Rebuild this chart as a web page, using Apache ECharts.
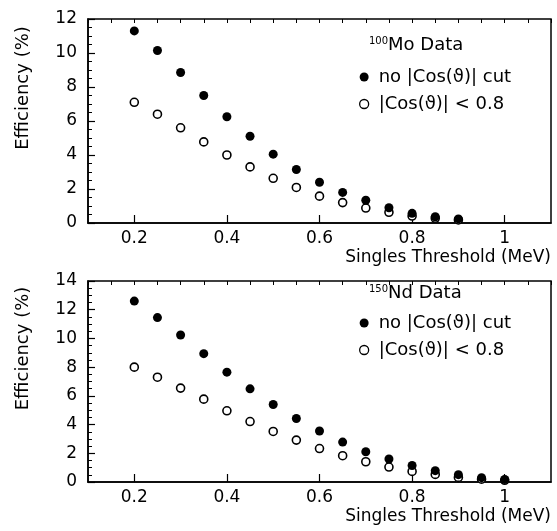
<!DOCTYPE html>
<html>
<head>
<meta charset="utf-8">
<script src="https://cdn.jsdelivr.net/npm/echarts@6/dist/echarts.min.js"></script>
<style>
  html, body { margin: 0; padding: 0; background: #fff; }
  #chart { width: 557px; height: 531px; }
</style>
</head>
<body>
<div id="chart"></div>
<script>
// Singles threshold (MeV) at which each efficiency was evaluated
const thresholds = [0.2, 0.25, 0.3, 0.35, 0.4, 0.45, 0.5, 0.55, 0.6, 0.65, 0.7, 0.75, 0.8, 0.85, 0.9, 0.95, 1.0];

// 100Mo efficiencies (%)
const moNoCut = [11.3, 10.15, 8.85, 7.5, 6.25, 5.1, 4.05, 3.15, 2.4, 1.8, 1.34, 0.9, 0.57, 0.37, 0.24];
const moCosCut = [7.1, 6.4, 5.6, 4.77, 4.0, 3.3, 2.63, 2.09, 1.58, 1.2, 0.88, 0.63, 0.41, 0.28, 0.18];

// 150Nd efficiencies (%)
const ndNoCut = [12.6, 11.45, 10.24, 8.94, 7.65, 6.49, 5.4, 4.42, 3.55, 2.78, 2.11, 1.6, 1.15, 0.79, 0.51, 0.3, 0.18];
const ndCosCut = [8.0, 7.3, 6.54, 5.77, 4.96, 4.21, 3.52, 2.92, 2.33, 1.83, 1.41, 1.04, 0.74, 0.53, 0.32, 0.2, 0.12];

// Axis labels
const xTickLabels = [0.2, 0.4, 0.6, 0.8, 1];
const xAxisTitle = 'Singles Threshold (MeV)';
const yAxisTitle = 'Efficiency (%)';
const nameNoCut = 'no |Cos(ϑ)| cut';
const nameCosCut = '|Cos(ϑ)| < 0.8';

const FONT = 'DejaVu Sans';

function pairs(values) {
  return values.map((v, i) => [thresholds[i], v]);
}

function mainXAxis(gridIndex) {
  return {
    type: 'value', gridIndex, min: 0.1, max: 1.1, interval: 0.1,
    axisLine: { show: true, onZero: false, lineStyle: { color: '#000', width: 1.5 } },
    axisTick: { show: true, inside: true, length: 8, customValues: xTickLabels,
                lineStyle: { color: '#000', width: 1.2 } },
    axisLabel: { customValues: xTickLabels, color: '#000', fontFamily: FONT, fontSize: 17, margin: 7 },
    splitLine: { show: false },
    name: xAxisTitle, nameLocation: 'end', nameGap: 0,
    nameTextStyle: { color: '#000', fontFamily: FONT, fontSize: 17, align: 'right',
                     verticalAlign: 'top', padding: [26, 0, 0, 0] }
  };
}

function minorXAxis(gridIndex) {
  return {
    type: 'value', gridIndex, min: 0.1, max: 1.1, interval: 0.05,
    axisLine: { show: false, onZero: false },
    axisTick: { show: true, inside: true, length: 4, lineStyle: { color: '#000', width: 1 } },
    axisLabel: { show: false },
    splitLine: { show: false }
  };
}

function yAxis(gridIndex, max) {
  return {
    type: 'value', gridIndex, min: 0, max, interval: 2,
    axisLine: { show: true, onZero: false, lineStyle: { color: '#000', width: 1.5 } },
    axisTick: { show: true, inside: true, length: 7, lineStyle: { color: '#000', width: 1.2 } },
    minorTick: { show: true, splitNumber: 4, length: 4, lineStyle: { color: '#000', width: 1 } },
    axisLabel: { color: '#000', fontFamily: FONT, fontSize: 17, margin: 11 },
    splitLine: { show: false },
    name: yAxisTitle, nameLocation: 'middle', nameGap: 56,
    nameTextStyle: { color: '#000', fontFamily: FONT, fontSize: 18, padding: [0, 0, 0, 66] }
  };
}

function filledSeries(values, xi, yi) {
  return {
    name: nameNoCut, type: 'scatter', xAxisIndex: xi, yAxisIndex: yi,
    symbol: 'circle', symbolSize: 9,
    itemStyle: { color: '#000', opacity: 1 },
    data: pairs(values), z: 3
  };
}

function openSeries(values, xi, yi) {
  return {
    name: nameCosCut, type: 'scatter', xAxisIndex: xi, yAxisIndex: yi,
    symbol: 'circle', symbolSize: 8,
    itemStyle: { color: '#fff', borderColor: '#000', borderWidth: 1.6, opacity: 1 },
    data: pairs(values), z: 2
  };
}

function legendBox(top) {
  return {
    orient: 'vertical', left: 354, top, itemGap: 9,
    itemWidth: 9, itemHeight: 9, selectedMode: false,
    textStyle: { color: '#000', fontFamily: FONT, fontSize: 18, padding: [0, 0, 0, 5] },
    data: [
      { name: nameNoCut, icon: 'circle', itemStyle: { color: '#000' } },
      { name: nameCosCut, icon: 'circle', itemStyle: { color: '#fff', borderColor: '#000', borderWidth: 1.3 } }
    ]
  };
}

function isotopeTitle(mass, element, top) {
  return {
    text: '{sup|' + mass + '}{el|' + element + ' Data}',
    left: 364, top,
    textStyle: {
      fontWeight: 'normal',
      rich: {
        sup: { fontFamily: FONT, fontSize: 10, color: '#000', verticalAlign: 'top', padding: [0, 0, 8, 0] },
        el: { fontFamily: FONT, fontSize: 18, color: '#000', fontWeight: 'normal' }
      }
    }
  };
}

const chart = echarts.init(document.getElementById('chart'));
chart.setOption({
  backgroundColor: '#fff',
  animation: false,
  title: [isotopeTitle(100, 'Mo', 31), isotopeTitle(150, 'Nd', 279)],
  legend: [legendBox(63), legendBox(309)],
  grid: [
    { left: 88, top: 19, width: 463, height: 204, show: true, borderColor: '#000', borderWidth: 1.5 },
    { left: 88, top: 281, width: 463, height: 201, show: true, borderColor: '#000', borderWidth: 1.5 }
  ],
  xAxis: [mainXAxis(0), minorXAxis(0), mainXAxis(1), minorXAxis(1)],
  yAxis: [yAxis(0, 12), yAxis(1, 14)],
  series: [
    filledSeries(moNoCut, 0, 0),
    openSeries(moCosCut, 0, 0),
    filledSeries(ndNoCut, 2, 1),
    openSeries(ndCosCut, 2, 1)
  ]
});
</script>
</body>
</html>
